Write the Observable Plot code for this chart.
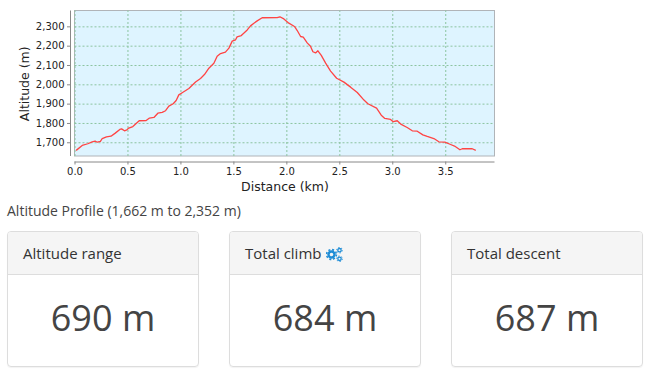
<!DOCTYPE html>
<html><head><meta charset="utf-8">
<script src="https://cdn.jsdelivr.net/npm/d3@7"></script>
<script src="https://cdn.jsdelivr.net/npm/@observablehq/plot@0.6"></script>
<style>
html,body{margin:0;padding:0;background:#fff;}
body{width:654px;height:382px;overflow:hidden;font-family:"Open Sans",sans-serif;color:#444;}
#chart{height:198px;}
#chart svg{display:block;background:#fff;}
#chart g[aria-label="x-axis label"],#chart g[aria-label="y-axis label"]{font-size:12.5px !important;}
#chart g[aria-label="x-axis label"] text,#chart g[aria-label="y-axis label"] text{font-size:12.5px !important;}
#title{margin:5px 0 0 7px;font-size:14px;line-height:16px;color:#444;}
#cards{display:flex;margin:12px 0 0 7px;gap:30px;}
.card{width:190px;height:134px;border:1px solid #ddd;border-radius:4px;box-shadow:0 1px 1px rgba(0,0,0,.05);box-sizing:content-box;overflow:hidden;}
.head{height:42px;line-height:42px;background:#f5f5f5;border-bottom:1px solid #ddd;padding-left:15px;font-size:15px;color:#333;}
.val{text-align:center;font-size:36px;line-height:50px;padding-top:18px;color:#444;}
.head svg{vertical-align:-3px;margin-left:1px;}
</style></head>
<body>
<div id="chart"></div>
<div id="title"></div>
<div id="cards"></div>
<script>
const distanceKm=[0.014,0.068,0.121,0.162,0.19,0.21,0.24,0.257,0.297,0.34,0.38,0.423,0.44,0.467,0.49,0.508,0.546,0.606,0.672,0.703,0.745,0.782,0.823,0.855,0.886,0.927,0.955,0.98,1.012,1.075,1.138,1.185,1.222,1.264,1.311,1.342,1.374,1.42,1.453,1.484,1.516,1.53,1.57,1.626,1.657,1.689,1.72,1.767,1.909,1.934,1.972,2.019,2.072,2.098,2.13,2.155,2.192,2.223,2.246,2.271,2.293,2.325,2.366,2.413,2.47,2.539,2.602,2.665,2.728,2.765,2.847,2.891,2.925,2.979,3.004,3.042,3.08,3.136,3.184,3.231,3.284,3.325,3.388,3.435,3.492,3.546,3.583,3.634,3.656,3.75,3.779];
const altitudeM=[1662,1686,1695,1705,1709,1703,1707,1722,1731,1734,1750,1769,1772,1762,1767,1776,1784,1814,1815,1828,1831,1853,1857,1866,1890,1902,1919,1948,1959,1981,2015,2033,2053,2086,2112,2148,2162,2169,2190,2226,2233,2248,2255,2284,2305,2319,2331,2347,2348,2352,2341,2319,2302,2281,2250,2247,2217,2200,2171,2165,2176,2152,2112,2071,2034,2014,1988,1960,1921,1902,1879,1843,1826,1821,1809,1814,1795,1779,1762,1760,1741,1733,1722,1705,1703,1691,1683,1664,1669,1669,1662];
const xTicks=[0,0.5,1,1.5,2,2.5,3,3.5];
const yTicks=[1700,1800,1900,2000,2100,2200,2300];
const xDomain=[0,3.965];
const yDomain=[1629,2382];
const titleText="Altitude Profile (1,662 m to 2,352 m)";
const cardTitles=["Altitude range","Total climb","Total descent"];
const cardValues=["690 m","684 m","687 m"];

const profile=distanceKm.map((d,i)=>({d,a:altitudeM[i]}));
const grid={stroke:"#8cc4a0",strokeWidth:1,strokeDasharray:"2,2"};
const plot=Plot.plot({
  width:654,height:198,
  marginLeft:74.5,marginRight:159.5,marginTop:10.5,marginBottom:42,
  style:{fontFamily:"'DejaVu Sans',sans-serif",fontSize:"10px",color:"#222",background:"#fff",overflow:"visible"},
  x:{domain:xDomain},y:{domain:yDomain},
  marks:[
    Plot.rect([0],{x1:()=>xDomain[0],x2:()=>xDomain[1],y1:()=>yDomain[0],y2:()=>yDomain[1],fill:"#def4ff",stroke:"#b0b4b8",strokeWidth:1}),
    Plot.ruleX(xTicks,{...grid,y1:yDomain[0],y2:yDomain[1]}),
    Plot.ruleY(yTicks,{...grid,x1:xDomain[0],x2:xDomain[1]}),
    Plot.line(profile,{x:"d",y:"a",stroke:"#ff4444",strokeWidth:1.3}),
    Plot.ruleX([xDomain[0]],{y1:yDomain[0],y2:yDomain[1],dx:-4.5,stroke:"#888",strokeWidth:1}),
    Plot.ruleY([yDomain[0]],{x1:xDomain[0],x2:xDomain[1],dy:5.5,stroke:"#888",strokeWidth:1}),
    Plot.axisX({ticks:xTicks,tickSize:3,dy:5.5,tickPadding:2.5,stroke:"#888",tickFormat:d3.format(".1f"),label:null,color:"#222",fill:"#222"}),
    Plot.axisY({ticks:yTicks,tickSize:3,dx:-4.5,tickPadding:3,stroke:"#888",tickFormat:d3.format(","),label:null,color:"#222",fill:"#222"}),
    Plot.axisX({ticks:[],tickSize:0,label:"Distance (km)",labelAnchor:"center",labelArrow:"none",labelOffset:34,fill:"#222"}),
    Plot.axisY({ticks:[],tickSize:0,label:"Altitude (m)",labelAnchor:"center",labelArrow:"none",labelOffset:55,fill:"#222"})
  ]
});
document.getElementById("chart").append(plot);
document.getElementById("title").textContent=titleText;
const gear='<svg width="17" height="15" viewBox="0 0 17 15"><g fill="none" stroke="#1f8dd6"><circle cx="5.5" cy="7.5" r="3" stroke-width="2.4"/><circle cx="5.5" cy="7.5" r="4.9" stroke-width="1.6" stroke-dasharray="2 1.85"/><circle cx="13.5" cy="3.2" r="1.7" stroke-width="1.3"/><circle cx="13.5" cy="3.2" r="2.8" stroke-width="1" stroke-dasharray="1.3 1.6"/><circle cx="13.5" cy="11.8" r="1.7" stroke-width="1.3"/><circle cx="13.5" cy="11.8" r="2.8" stroke-width="1" stroke-dasharray="1.3 1.6"/></g></svg>';
document.getElementById("cards").innerHTML=cardTitles.map((t,i)=>`<div class="card"><div class="head">${t}${i===1?" "+gear:""}</div><div class="val">${cardValues[i]}</div></div>`).join("");
</script>
</body></html>
